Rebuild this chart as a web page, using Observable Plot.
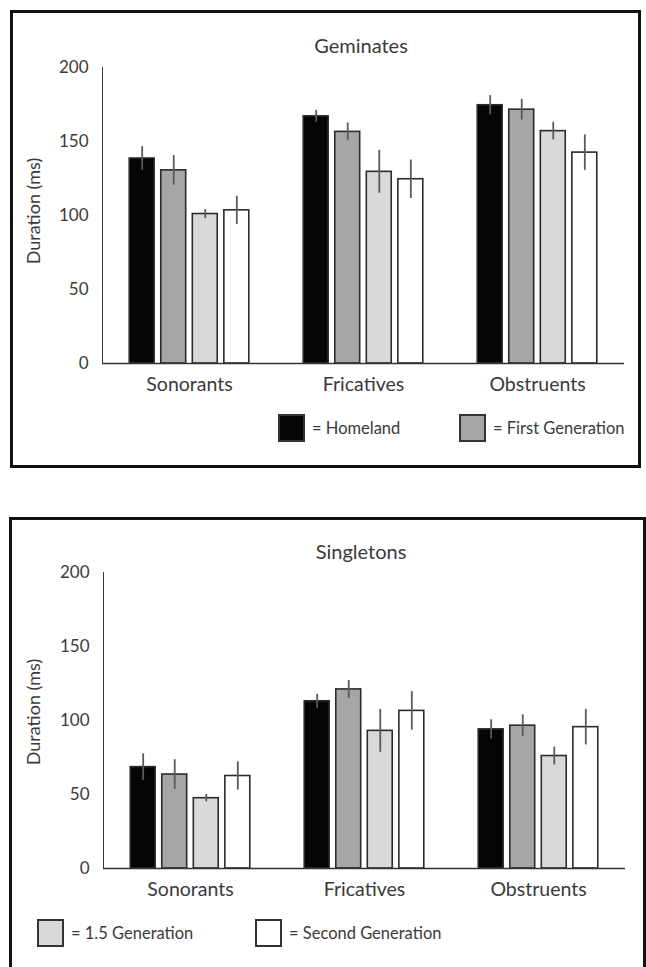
<!DOCTYPE html>
<html><head><meta charset="utf-8">
<script src="https://cdn.jsdelivr.net/npm/d3@7"></script>
<script src="https://cdn.jsdelivr.net/npm/@observablehq/plot@0.6"></script>
<style>
body{margin:0;background:#fff;font-family:Lato,sans-serif;color:#3a3a3a}
#page{position:relative;width:646px;height:967px;overflow:hidden;background:#fff}
.panel{position:absolute;border:3px solid #111;box-sizing:border-box}
.title{position:absolute;width:200px;text-align:center;font-size:20px;line-height:24px;transform:translate(-50%,-50%)}
.ylab{position:absolute;font-size:18px;line-height:20px;transform:translate(-50%,-50%) rotate(-90deg);white-space:nowrap}
.plot{position:absolute;left:0}
.leg{position:absolute;display:flex;align-items:center;font-size:16.5px;white-space:nowrap;height:28px}
.sw{width:23px;height:24px;border:2px solid #333;margin-right:7px}
.plot g[aria-label^="fx-axis"] text{font-size:19.5px}
</style></head>
<body><div id="page">
<div class="panel" style="left:10px;top:10px;width:631px;height:458px"></div>
<div class="panel" style="left:9px;top:517px;width:637px;height:470px"></div>
<div class="title" style="left:361px;top:45px">Geminates</div>
<div class="title" style="left:361px;top:551px">Singletons</div>
<div class="ylab" style="left:33px;top:211px">Duration (ms)</div>
<div class="ylab" style="left:33px;top:712px">Duration (ms)</div>
<div id="top" class="plot" style="top:0px"></div>
<div id="bot" class="plot" style="top:505px"></div>
<div class="leg" style="left:278px;top:414px"><div class="sw" style="background:#050508"></div>= Homeland</div>
<div class="leg" style="left:459px;top:414px"><div class="sw" style="background:#a6a6a6"></div>= First Generation</div>
<div class="leg" style="left:37px;top:919px"><div class="sw" style="background:#d9d9d9"></div>= 1.5 Generation</div>
<div class="leg" style="left:255px;top:919px"><div class="sw" style="background:#ffffff"></div>= Second Generation</div>
</div>
<script>
const categories = ["Sonorants", "Fricatives", "Obstruents"];
const series = ["Homeland", "First Generation", "1.5 Generation", "Second Generation"];
const colors = ["#050508", "#a6a6a6", "#d9d9d9", "#ffffff"];
const yTicks = [0, 50, 100, 150, 200];

// Geminates: rows = categories, cols = series
const geminateMeans = [[138.5, 130.5, 101, 103.5], [167, 156.5, 129.5, 124.5], [174.5, 171.5, 157, 142.5]];
const geminateErrors = [[8, 10, 3, 9.5], [4, 6, 14.5, 13], [6.5, 7, 6, 12]];
// Singletons
const singletonMeans = [[68.5, 63.5, 47.5, 62.5], [113, 121, 93, 106.5], [94, 96.5, 76, 95.5]];
const singletonErrors = [[9, 10, 2.5, 9.5], [4.7, 6, 14.5, 13], [6.5, 7.3, 6, 12]];

function rows(means, errs) {
  const out = [];
  categories.forEach((c, i) => series.forEach((s, j) => {
    out.push({category: c, series: s, value: means[i][j], lo: means[i][j] - errs[i][j], hi: means[i][j] + errs[i][j]});
  }));
  return out;
}

function chart(data, marginLeft, marginRight) {
  return Plot.plot({
    width: 646,
    height: 67 + 296 + 40,
    marginTop: 67,
    marginBottom: 40,
    marginLeft,
    marginRight,
    style: {fontFamily: "Lato, sans-serif", fontSize: "17px", color: "#3a3a3a", background: "transparent", overflow: "visible"},
    fx: {domain: categories, padding: 0, axis: "bottom", label: null, tickSize: 0, tickPadding: 14},
    x: {domain: series, axis: null, paddingInner: 0.21, paddingOuter: 0.863, round: false},
    y: {domain: [0, 200], ticks: yTicks, tickSize: 0, tickPadding: 14, label: null, line: true},
    color: {domain: series, range: colors},
    marks: [
      Plot.barY(data, {fx: "category", x: "series", y: "value", fill: "series", stroke: "#2b2b2b", strokeWidth: 1.6}),
      Plot.ruleX(data, {fx: "category", x: "series", y1: "lo", y2: "hi", stroke: "#5a5a5a", strokeWidth: 1.8}),
      Plot.ruleY([0], {stroke: "#333", strokeWidth: 1.6})
    ]
  });
}

document.getElementById("top").append(chart(rows(geminateMeans, geminateErrors), 101, 21));
document.getElementById("bot").append(chart(rows(singletonMeans, singletonErrors), 102, 20));
</script>
</body></html>
